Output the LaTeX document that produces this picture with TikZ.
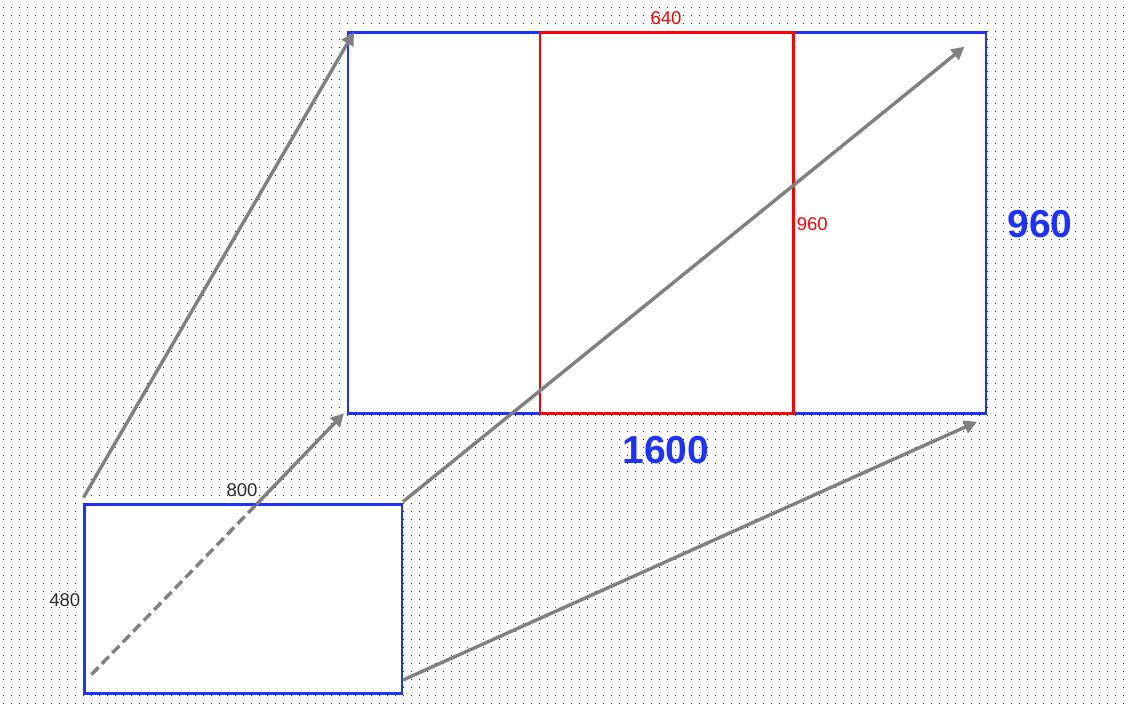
\documentclass[tikz,border=0pt]{standalone}
\usepackage{fontspec}
\setmainfont{Liberation Sans}
\usetikzlibrary{arrows.meta}
\definecolor{rectblue}{RGB}{30,50,255}
\definecolor{dotblue}{RGB}{30,30,140}
\definecolor{arrowgray}{RGB}{128,128,128}
\definecolor{labelgray}{RGB}{45,45,45}
\definecolor{redline}{RGB}{255,0,0}
\begin{document}
\begin{tikzpicture}[x=1pt,y=-1pt,
  frame/.style={draw=rectblue, line width=2.4pt, fill=white, rectangle, inner sep=0pt, outer sep=0pt},
  redframe/.style={draw=redline, line width=2.4pt, rectangle, inner sep=0pt, outer sep=0pt},
  arrowline/.style={draw=arrowgray, line width=3.4pt, -{Triangle[length=13pt,width=13pt]}},
  dashline/.style={draw=arrowgray, line width=3.4pt, dash pattern=on 10pt off 5pt},
  smalllabel/.style={inner sep=0pt, font=\fontsize{18.5}{20}\selectfont},
  biglabel/.style={inner sep=0pt, text=rectblue, font=\fontsize{39}{42}\selectfont\bfseries}
]
\useasboundingbox (0,0) rectangle (1125,707);
\fill[white] (0,0) rectangle (1125,707);
% dotted background
\foreach \r in {0,...,87} {
  \draw[dotblue, line width=1pt, dash pattern=on 1pt off 7pt] (3,7.5+8*\r) -- (1125,7.5+8*\r);
}
% frames
\node[frame, minimum width=638.3pt, minimum height=381pt] (big) at (666.85,222.8) {};
\node[redframe, minimum width=253.3pt, minimum height=381pt] (crop) at (666.65,222.8) {};
\node[frame, minimum width=317.5pt, minimum height=188.8pt] (small) at (243.25,598.9) {};
% labels
\node[smalllabel, text=labelgray] (w800) at (242,490) {800};
\node[smalllabel, text=labelgray] (h480) at (64.7,600) {480};
\node[smalllabel, text=redline] (w640) at (666,18.3) {640};
\node[smalllabel, text=redline] (h960s) at (812.3,223.7) {960};
\node[biglabel] (h960) at (1040,223.7) {960};
\node[biglabel] (w1600) at (666,450) {1600};
% arrow end points
\coordinate (s1) at (83.5,497.5);
\coordinate (t1) at (354,32);
\coordinate (s2) at (91.5,674.5);
\coordinate (m2) at (256.3,504.5);
\coordinate (t2) at (344,413.3);
\coordinate (s3) at (403,501.7);
\coordinate (t3) at (964.5,46.7);
\coordinate (s4) at (403,680);
\coordinate (t4) at (977,421.7);
% arrows
\draw[arrowline] (s1) -- (t1);
\draw[dashline] (s2) -- (m2);
\draw[arrowline] (m2) -- (t2);
\draw[arrowline] (s3) -- (t3);
\draw[arrowline] (s4) -- (t4);
\end{tikzpicture}
\end{document}
